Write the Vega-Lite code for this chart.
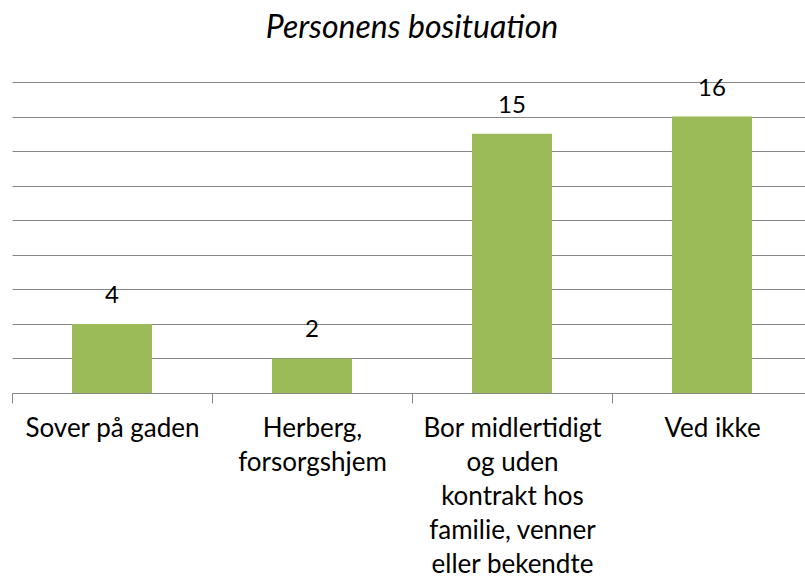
{
  "$schema": "https://vega.github.io/schema/vega-lite/v6.json",
  "width": 800,
  "height": 311,
  "autosize": {"type": "none"},
  "padding": {"top": 82, "left": 12, "right": 0, "bottom": 188},
  "background": "white",
  "title": {
    "text": "Personens bosituation",
    "font": "Lato",
    "fontSize": 32,
    "fontStyle": "italic",
    "fontWeight": "normal",
    "color": "#000000",
    "anchor": "middle",
    "baseline": "alphabetic",
    "offset": 7
  },
  "data": {
    "values": [
      {"kategori": "Sover på gaden", "antal": 4},
      {"kategori": "Herberg, forsorgshjem", "antal": 2},
      {"kategori": "Bor midlertidigt og uden kontrakt hos familie, venner eller bekendte", "antal": 15},
      {"kategori": "Ved ikke", "antal": 16}
    ]
  },
  "config": {"view": {"stroke": null}},
  "encoding": {
    "x": {
      "field": "kategori",
      "type": "nominal",
      "sort": null,
      "scale": {"paddingInner": 0, "paddingOuter": 0},
      "axis": {
        "title": null,
        "labelAngle": 0,
        "labelFont": "Lato",
        "labelFontSize": 26,
        "labelColor": "#000000",
        "labelLineHeight": 34,
        "labelPadding": 33,
        "labelBaseline": "alphabetic",
        "labelLimit": 0,
        "tickBand": "extent",
        "tickSize": 10,
        "tickColor": "#868686",
        "domainColor": "#868686",
        "labelExpr": "datum.label == 'Herberg, forsorgshjem' ? ['Herberg,', 'forsorgshjem'] : datum.label == 'Bor midlertidigt og uden kontrakt hos familie, venner eller bekendte' ? ['Bor midlertidigt', 'og uden', 'kontrakt hos', 'familie, venner', 'eller bekendte'] : datum.label"
      }
    },
    "y": {
      "field": "antal",
      "type": "quantitative",
      "scale": {"domain": [0, 18], "nice": false},
      "axis": {
        "title": null,
        "values": [0, 2, 4, 6, 8, 10, 12, 14, 16, 18],
        "labels": false,
        "ticks": false,
        "domain": false,
        "grid": true,
        "gridColor": "#868686",
        "gridWidth": 1,
        "gridOpacity": 1
      }
    }
  },
  "layer": [
    {
      "mark": {"type": "bar", "color": "#9BBB59", "width": {"band": 0.4}}
    },
    {
      "mark": {
        "type": "text",
        "font": "Lato",
        "fontSize": 24,
        "color": "#000000",
        "baseline": "alphabetic",
        "dy": -21
      },
      "encoding": {"text": {"field": "antal", "type": "quantitative"}}
    }
  ]
}
